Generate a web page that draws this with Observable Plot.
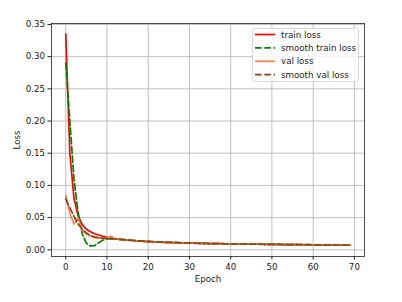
<!DOCTYPE html>
<html>
<head>
<meta charset="utf-8">
<script src="https://cdn.jsdelivr.net/npm/d3@7"></script>
<script src="https://cdn.jsdelivr.net/npm/@observablehq/plot@0.6"></script>
<style>
  html, body { margin: 0; padding: 0; background: #fff; }
  #wrap { position: relative; width: 402px; height: 302px; font-family: "DejaVu Sans", sans-serif; }
  #legend { position: absolute; left: 252px; top: 28px; }
</style>
</head>
<body>
<div id="wrap"></div>
<script>
// ---- data ----
const seriesNames = ["train loss", "smooth train loss", "val loss", "smooth val loss"];

const trainLoss = [0.335, 0.150, 0.080, 0.053, 0.039, 0.032, 0.028, 0.025, 0.023, 0.021,
  0.0195, 0.0182, 0.0172, 0.0164, 0.0157, 0.0151, 0.0146, 0.0141, 0.0136, 0.0132,
  0.0128, 0.0125, 0.0122, 0.0119, 0.0116, 0.0114, 0.0112, 0.0110, 0.0108, 0.0106,
  0.0104, 0.0103, 0.0101, 0.0100, 0.0098, 0.0097, 0.0096, 0.0095, 0.0094, 0.0093,
  0.0092, 0.0091, 0.0090, 0.0089, 0.0088, 0.0087, 0.0086, 0.0086, 0.0085, 0.0084,
  0.0083, 0.0083, 0.0082, 0.0081, 0.0081, 0.0080, 0.0079, 0.0079, 0.0078, 0.0078,
  0.0077, 0.0077, 0.0076, 0.0076, 0.0075, 0.0075, 0.0074, 0.0074, 0.0073, 0.0073];

const smoothTrainLoss = [0.290, 0.200, 0.110, 0.058, 0.025, 0.010, 0.006, 0.0065, 0.011, 0.015,
  0.0170, 0.0172, 0.0168, 0.0162, 0.0156, 0.0151, 0.0146, 0.0141, 0.0136, 0.0132,
  0.0128, 0.0125, 0.0122, 0.0119, 0.0116, 0.0114, 0.0112, 0.0110, 0.0108, 0.0106,
  0.0104, 0.0103, 0.0101, 0.0100, 0.0098, 0.0097, 0.0096, 0.0095, 0.0094, 0.0093,
  0.0092, 0.0091, 0.0090, 0.0089, 0.0088, 0.0087, 0.0086, 0.0086, 0.0085, 0.0084,
  0.0083, 0.0083, 0.0082, 0.0081, 0.0081, 0.0080, 0.0079, 0.0079, 0.0078, 0.0078,
  0.0077, 0.0077, 0.0076, 0.0076, 0.0075, 0.0075, 0.0074, 0.0074, 0.0073, 0.0073];

const valLoss = [0.085, 0.056, 0.040, 0.049, 0.030, 0.025, 0.021, 0.019, 0.018, 0.0175,
  0.0180, 0.0210, 0.0168, 0.0163, 0.0158, 0.0153, 0.0148, 0.0142, 0.0138, 0.0134,
  0.0130, 0.0126, 0.0123, 0.0120, 0.0117, 0.0115, 0.0113, 0.0111, 0.0109, 0.0107,
  0.0105, 0.0104, 0.0102, 0.0101, 0.0099, 0.0098, 0.0097, 0.0096, 0.0095, 0.0094,
  0.0093, 0.0092, 0.0091, 0.0090, 0.0089, 0.0088, 0.0087, 0.0087, 0.0086, 0.0085,
  0.0084, 0.0084, 0.0083, 0.0082, 0.0082, 0.0081, 0.0080, 0.0080, 0.0079, 0.0079,
  0.0078, 0.0078, 0.0077, 0.0077, 0.0076, 0.0076, 0.0075, 0.0075, 0.0074, 0.0074];

const smoothValLoss = [0.079, 0.065, 0.052, 0.040, 0.032, 0.026, 0.022, 0.020, 0.019, 0.018,
  0.0178, 0.0175, 0.0168, 0.0163, 0.0158, 0.0153, 0.0148, 0.0142, 0.0138, 0.0134,
  0.0130, 0.0126, 0.0123, 0.0120, 0.0117, 0.0115, 0.0113, 0.0111, 0.0109, 0.0107,
  0.0105, 0.0104, 0.0102, 0.0101, 0.0099, 0.0098, 0.0097, 0.0096, 0.0095, 0.0094,
  0.0093, 0.0092, 0.0091, 0.0090, 0.0089, 0.0088, 0.0087, 0.0087, 0.0086, 0.0085,
  0.0084, 0.0084, 0.0083, 0.0082, 0.0082, 0.0081, 0.0080, 0.0080, 0.0079, 0.0079,
  0.0078, 0.0078, 0.0077, 0.0077, 0.0076, 0.0076, 0.0075, 0.0075, 0.0074, 0.0074];

const xTicks = [0, 10, 20, 30, 40, 50, 60, 70];
const yTicks = [0.00, 0.05, 0.10, 0.15, 0.20, 0.25, 0.30, 0.35];

// ---- build tidy table ----
const valuesBySeries = [trainLoss, smoothTrainLoss, valLoss, smoothValLoss];
const styles = [
  {color: "#ff0000", dash: null},
  {color: "#008000", dash: "6.5,2.8"},
  {color: "#ff7f50", dash: null},
  {color: "#8b4513", dash: "6.5,2.8"}
];
const rows = seriesNames.map((name, i) =>
  valuesBySeries[i].map((v, epoch) => ({series: name, epoch, loss: v})));

const FONT = "DejaVu Sans, sans-serif";

const chart = Plot.plot({
  width: 402,
  height: 302,
  marginLeft: 51,
  marginRight: 38,
  marginTop: 23,
  marginBottom: 46,
  style: {fontFamily: FONT, fontSize: "8.7px", color: "#222", background: "#fff", overflow: "visible"},
  x: {domain: [-3.45, 72.45]},
  y: {domain: [-0.0104, 0.3515]},
  marks: [
    Plot.gridX(xTicks, {stroke: "#b0b0b0", strokeOpacity: 1, strokeWidth: 0.8}),
    Plot.gridY(yTicks, {stroke: "#b0b0b0", strokeOpacity: 1, strokeWidth: 0.8}),
    ...rows.map((r, i) => Plot.line(r, {
      x: "epoch", y: "loss",
      stroke: styles[i].color,
      strokeWidth: 1.7,
      strokeDasharray: styles[i].dash
    })),
    Plot.axisX({ticks: xTicks, tickSize: 3.5, tickPadding: 3.5, label: "Epoch", labelAnchor: "center", labelArrow: "none", labelOffset: 25}),
    Plot.axisY({ticks: yTicks, tickFormat: d3.format(".2f"), tickSize: 3.5, tickPadding: 3, label: "Loss", labelAnchor: "center", labelArrow: "none", labelOffset: 38}),
    Plot.frame({stroke: "#222", strokeWidth: 0.8})
  ]
});

const wrap = document.getElementById("wrap");
wrap.appendChild(chart);

// ---- legend overlay ----
const lw = 107, lh = 54;
const leg = d3.create("svg")
  .attr("id", "legend")
  .attr("width", lw).attr("height", lh)
  .style("position", "absolute").style("left", "252px").style("top", "28px")
  .style("font-family", FONT).style("font-size", "8.7px");
leg.append("rect").attr("x", 0.5).attr("y", 0.5).attr("width", lw - 1).attr("height", lh - 1)
  .attr("rx", 2).attr("fill", "#fff").attr("fill-opacity", 0.8).attr("stroke", "#d0d0d0").attr("stroke-width", 0.8);
seriesNames.forEach((name, i) => {
  const cy = 6.5 + i * 13.4;
  leg.append("line").attr("x1", 3).attr("x2", 23).attr("y1", cy).attr("y2", cy)
    .attr("stroke", styles[i].color).attr("stroke-width", 1.7)
    .attr("stroke-dasharray", styles[i].dash);
  leg.append("text").attr("x", 29).attr("y", cy).attr("dy", "0.35em")
    .attr("fill", "#222").text(name);
});
wrap.appendChild(leg.node());
</script>
</body>
</html>
